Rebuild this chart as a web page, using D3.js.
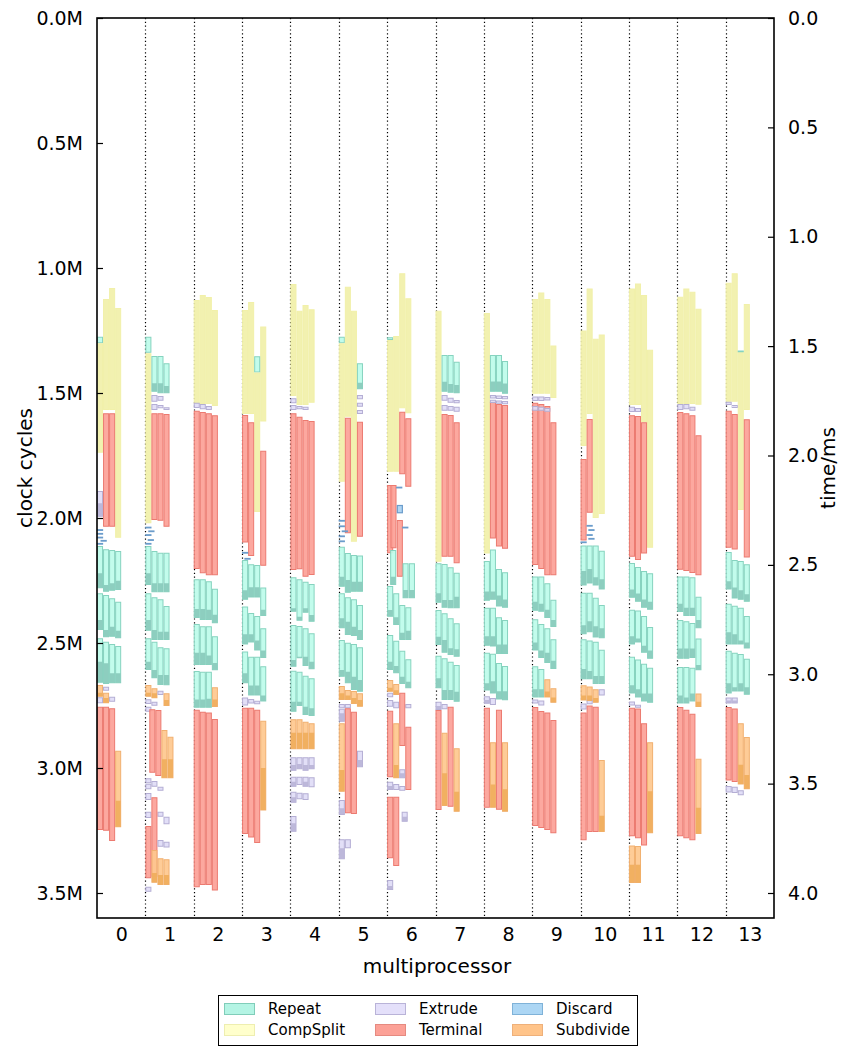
<!DOCTYPE html>
<html>
<head>
<meta charset="utf-8">
<script src="https://cdn.jsdelivr.net/npm/d3@7"></script>
<style>
  body { margin: 0; background: #fff; }
  text { font-family: "DejaVu Sans", sans-serif; fill: #000; }
</style>
</head>
<body>
<svg id="chart" width="842" height="1048"></svg>
<script>
// ---- axes ----
const multiprocessors = [0, 1, 2, 3, 4, 5, 6, 7, 8, 9, 10, 11, 12, 13];
const cycleTicks = [0, 0.5, 1.0, 1.5, 2.0, 2.5, 3.0, 3.5];          // million clock cycles
const cycleTickLabels = ["0.0M", "0.5M", "1.0M", "1.5M", "2.0M", "2.5M", "3.0M", "3.5M"];
const timeTicks = [0.0, 0.5, 1.0, 1.5, 2.0, 2.5, 3.0, 3.5, 4.0];     // milliseconds
const clockMHz = 875;
const lanesPerMP = 8;   // lane slots per multiprocessor column

// ---- task kinds (legend order) ----
const taskTypes = ["Repeat", "CompSplit", "Extrude", "Terminal", "Discard", "Subdivide"];
const typeCodes = ["R", "C", "E", "T", "D", "S"];

// ---- tasks per multiprocessor: [lane, kind, start, end, secondPhaseStart] (Mcycles) ----
const tasksMP0 = [
  [0,'R',1.275,1.301],[0,'C',1.301,1.739],[1,'C',1.124,1.568],[2,'C',1.080,1.568],[3,'C',1.160,2.079],
  [1,'T',1.581,2.035],[2,'T',1.581,2.035],[0,'E',1.892,1.995,1.941],
  [0,'D',2.045,2.049],[0,'D',2.060,2.064],[0,'D',2.075,2.079],[0.6,'D',2.088,2.092],[0,'D',2.100,2.104],
  [0,'R',2.112,2.281,2.221],[1,'R',2.125,2.295,2.268],[2,'R',2.128,2.291,2.261],[3,'R',2.132,2.288,2.251],
  [0,'R',2.301,2.448,2.408],[1,'R',2.308,2.477,2.448],[2,'R',2.321,2.475,2.435],[3,'R',2.335,2.481,2.451],
  [0,'R',2.481,2.659,2.575],[1,'R',2.495,2.664,2.581],[2,'R',2.504,2.661,2.621],[3,'R',2.512,2.661,2.621],
  [0,'S',2.668,2.715,2.699],[1,'E',2.675,2.691],[1,'S',2.699,2.741,2.72],[2,'E',2.715,2.735],[0,'E',2.717,2.741],
  [0,'T',2.755,3.248],[1,'T',2.755,3.251],[2,'T',2.761,3.292],[3,'S',2.931,3.237,3.131]
];
const tasksMP1 = [
  [0,'R',1.275,1.339],[0,'C',1.341,2.021],
  [1,'R',1.352,1.495,1.461],[2,'R',1.352,1.501,1.461],[3,'R',1.381,1.501,1.472],
  [1,'E',1.508,1.535],[2,'E',1.512,1.531],[1,'E',1.544,1.568],[2,'E',1.548,1.561],[3,'E',1.557,1.568],
  [1,'T',1.581,2.008],[2,'T',1.581,2.011],[3,'T',1.584,2.035],
  [0,'D',2.035,2.039],[0.5,'D',2.050,2.054],[0,'D',2.065,2.069],[0.4,'D',2.085,2.089],[0,'D',2.100,2.104],
  [0,'R',2.112,2.268,2.221],[1,'R',2.132,2.297,2.261],[2,'R',2.139,2.297,2.261],[3,'R',2.139,2.297,2.261],
  [0,'R',2.301,2.451,2.408],[1,'R',2.317,2.488,2.448],[2,'R',2.325,2.488,2.455],[3,'R',2.352,2.488,2.455],
  [0,'R',2.481,2.608,2.575],[1,'R',2.495,2.641,2.608],[2,'R',2.517,2.668,2.628],[3,'R',2.521,2.669,2.628],
  [0,'S',2.668,2.715,2.699],[1,'S',2.681,2.721,2.701],[2,'E',2.691,2.708],[3,'S',2.701,2.752,2.728],
  [0,'E',2.725,2.744],[1,'E',2.735,2.751],[0,'E',2.755,2.775],
  [0.65,'T',2.765,3.019],[1.65,'T',2.768,3.032],[2.65,'S',2.848,3.041,2.965],[3.65,'S',2.875,3.041,2.965],
  [0,'E',3.041,3.061],[1,'E',3.052,3.075],[0,'E',3.063,3.085],[2,'E',3.075,3.091],[0,'E',3.100,3.128],
  [0,'E',3.175,3.200],[2,'E',3.175,3.195],[3,'E',3.195,3.225],
  [1,'T',3.117,3.435],[0,'T',3.232,3.441],[2,'E',3.288,3.315],[3,'E',3.295,3.318],
  [1,'S',3.328,3.459,3.42],[2,'S',3.361,3.468,3.428],[3,'S',3.365,3.468,3.428],[0,'E',3.475,3.495]
];
const tasksMP2 = [
  [0,'C',1.128,1.544],[1,'C',1.108,1.544],[2,'C',1.116,1.544],[3,'C',1.168,1.552],
  [0,'E',1.539,1.560],[1,'E',1.544,1.565],[2,'E',1.552,1.568],
  [0,'T',1.571,2.204],[1,'T',1.576,2.221],[2,'T',1.581,2.229],[3,'T',1.589,2.229],
  [0,'R',2.245,2.400,2.364],[1,'R',2.245,2.408,2.364],[2,'R',2.253,2.408,2.367],[3,'R',2.283,2.421,2.387],
  [0,'R',2.424,2.588,2.539],[1,'R',2.433,2.588,2.539],[2,'R',2.433,2.588,2.55],[3,'R',2.473,2.609,2.58],
  [0,'R',2.612,2.759,2.726],[1,'R',2.615,2.759,2.726],[2,'R',2.615,2.759,2.723],[3,'S',2.677,2.756,2.726],
  [0,'T',2.767,3.477],[1,'T',2.775,3.468],[2,'T',2.778,3.468],[3,'T',2.804,3.490]
];
const tasksMP3 = [
  [1,'C',1.136,1.584],[0,'C',1.168,1.584],[3,'C',1.234,1.614],[2,'R',1.353,1.418],[2,'C',1.418,1.976],
  [0,'T',1.588,2.098],[1,'T',1.617,2.152],[3,'T',1.731,2.191],
  [0,'D',2.136,2.140],[0.4,'D',2.160,2.164],
  [0,'R',2.168,2.327,2.289],[1,'R',2.185,2.318,2.277],[2,'R',2.188,2.318,2.277],[3,'R',2.278,2.392,2.367],
  [0,'R',2.354,2.506,2.465],[1,'R',2.380,2.498,2.465],[2,'R',2.392,2.530,2.49],[3,'R',2.441,2.560,2.53],
  [0,'R',2.534,2.661,2.621],[1,'R',2.555,2.710,2.67],[2,'R',2.555,2.710,2.67],[3,'R',2.593,2.734,2.71],
  [0,'E',2.718,2.750],[1,'E',2.724,2.742],[2,'E',2.731,2.745],
  [0,'T',2.759,3.264],[1,'T',2.759,3.278],[2,'T',2.767,3.300],[3,'S',2.811,3.170,3.0]
];
const tasksMP4 = [
  [0,'C',1.064,1.512],[1,'C',1.171,1.548],[2,'C',1.148,1.548],[3,'C',1.165,1.539],
  [0,'E',1.521,1.541],[0,'E',1.548,1.568],[1,'E',1.552,1.565],[2,'E',1.555,1.568],
  [0,'T',1.581,2.208],[1,'T',1.595,2.205],[2,'T',1.608,2.235],[3,'T',1.612,2.228],
  [0,'R',2.237,2.375,2.361],[1,'R',2.245,2.411,2.395],[2,'R',2.255,2.379,2.361],[3,'R',2.264,2.415,2.388],
  [0,'R',2.428,2.595,2.568],[1,'R',2.432,2.561,2.555],[2,'R',2.441,2.592,2.555],[3,'R',2.461,2.605,2.575],
  [0,'R',2.611,2.775,2.735],[1,'R',2.615,2.752,2.735],[2,'R',2.631,2.788,2.755],[3,'R',2.641,2.792,2.761],
  [0,'S',2.805,2.925,2.859],[1,'S',2.805,2.925,2.859],[2,'S',2.815,2.925,2.859],[3,'S',2.821,2.925,2.859],
  [0,'E',2.957,3.011,2.988],[1,'E',2.957,3.005,2.984],[2,'E',2.957,3.011,2.988],[3,'E',2.957,3.005,2.988],
  [0,'E',3.035,3.075,3.055],[1,'E',3.035,3.068],[2,'E',3.035,3.075,3.055],[3,'E',3.037,3.077],
  [0,'E',3.095,3.139,3.117],[1,'E',3.099,3.125],[2,'E',3.101,3.128],[0,'E',3.192,3.255,3.221]
];
const tasksMP5 = [
  [0,'R',1.275,1.301],[0,'C',1.301,1.855],[1,'C',1.075,1.595],[2,'C',1.171,2.095],
  [3,'R',1.381,1.485,1.459],[3,'E',1.508,1.525],[3,'E',1.539,1.555],[3,'E',1.568,1.584],
  [1,'T',1.599,2.061],[3,'T',1.615,2.075],
  [0,'D',2.008,2.012],[0,'D',2.030,2.034],[0.5,'D',2.050,2.054],[0,'D',2.070,2.074],[0,'D',2.090,2.094],
  [0,'R',2.115,2.275,2.235],[1,'R',2.140,2.299,2.248],[2,'R',2.148,2.295,2.255],[3,'R',2.150,2.295,2.255],
  [0,'R',2.301,2.441,2.401],[1,'R',2.317,2.468,2.415],[2,'R',2.325,2.472,2.435],[3,'R',2.348,2.488,2.448],
  [0,'R',2.488,2.635,2.608],[1,'R',2.499,2.661,2.615],[2,'R',2.504,2.688,2.635],[3,'R',2.517,2.695,2.648],
  [0,'S',2.672,2.728,2.701],[1,'S',2.688,2.728,2.71],[2,'S',2.692,2.744,2.72],[3,'S',2.701,2.755,2.728],
  [0,'E',2.744,2.761],[1,'E',2.744,2.761],[0,'E',2.763,2.815,2.781],
  [1,'T',2.761,3.181],[2,'T',2.775,3.184],[0,'S',2.821,3.095,3.008],[3,'E',2.931,2.997,2.968],
  [0,'E',3.128,3.188,3.161],[0,'E',3.285,3.365,3.321],[1,'E',3.285,3.321]
];
const tasksMP6 = [
  [0,'R',1.277,1.288],[0,'C',1.288,1.815],[1,'C',1.272,1.815],[2,'C',1.021,1.561],[3,'C',1.121,1.581],
  [2,'T',1.575,1.825],[3,'T',1.601,1.875],[0,'T',1.868,2.141],[0.55,'T',1.868,2.121],
  [1.5,'D',1.875,1.879],[1.6,'D',1.948,1.981],[1.6,'T',2.008,2.235],[2.5,'D',2.035,2.039],
  [0.5,'R',2.128,2.268,2.235],[2.55,'R',2.181,2.321,2.288],[3.6,'R',2.181,2.321,2.288],
  [0,'R',2.272,2.395,2.368],[1,'R',2.301,2.428,2.397],[2,'R',2.348,2.488,2.459],[3,'R',2.357,2.488,2.451],
  [0,'R',2.468,2.608,2.575],[1,'R',2.491,2.621,2.592],[2,'R',2.531,2.664,2.635],[3,'R',2.565,2.681,2.655],
  [0,'S',2.648,2.695,2.679],[1,'S',2.664,2.708,2.689],
  [0,'E',2.699,2.717],[0,'E',2.728,2.755],[1,'E',2.735,2.761],[3,'E',2.744,2.761],
  [2,'T',2.699,2.912],[3,'T',2.835,3.088],[0,'T',2.771,3.037],[1,'S',2.821,3.041,2.988],
  [2,'E',3.005,3.041,3.021],[0,'E',3.055,3.088,3.072],[1,'E',3.064,3.088],[2,'E',3.072,3.091],
  [0,'T',3.115,3.361],[1,'T',3.115,3.392],[2.4,'E',3.175,3.215,3.195],[0,'E',3.448,3.488,3.472]
];
const tasksMP7 = [
  [0,'C',1.171,2.175],
  [1,'R',1.348,1.495,1.455],[2,'R',1.348,1.499,1.464],[3,'R',1.375,1.501,1.468],
  [1,'E',1.508,1.531],[2,'E',1.519,1.539],[3,'E',1.528,1.541],
  [1,'E',1.548,1.571],[2,'E',1.552,1.571],[3,'E',1.555,1.575],
  [1,'T',1.584,2.155],[2,'T',1.588,2.155],[3,'T',1.617,2.181],
  [0,'R',2.181,2.339,2.301],[1,'R',2.184,2.359,2.328],[2,'R',2.197,2.361,2.328],[3,'R',2.219,2.361,2.315],
  [0,'R',2.368,2.508,2.475],[1,'R',2.381,2.539,2.488],[2,'R',2.401,2.548,2.521],[3,'R',2.421,2.555,2.525],
  [0,'R',2.551,2.681,2.641],[1,'R',2.561,2.728,2.688],[2,'R',2.575,2.728,2.688],[3,'R',2.588,2.735,2.695],
  [0,'E',2.735,2.768,2.752],[1,'E',2.744,2.765],
  [0,'T',2.768,3.168],[2,'T',2.755,3.155],[1,'S',2.859,3.152,3.021],[3,'S',2.921,3.175,3.095]
];
const tasksMP8 = [
  [0,'C',1.180,2.142],
  [1,'R',1.348,1.495,1.454],[2,'R',1.348,1.495,1.454],[3,'R',1.372,1.503,1.462],
  [1,'T',1.535,2.082],[2,'T',1.544,2.114],[3,'T',1.548,2.123],
  [1,'E',1.508,1.522],[2,'E',1.510,1.524],[3,'E',1.512,1.525],
  [1,'E',1.527,1.540],[2,'E',1.530,1.543],[3,'E',1.532,1.545],
  [1,'R',2.126,2.327,2.294],[0,'R',2.172,2.331,2.294],[2,'R',2.204,2.354,2.31],[3,'R',2.217,2.359,2.326],
  [0,'R',2.359,2.511,2.473],[1,'R',2.359,2.514,2.473],[2,'R',2.397,2.544,2.506],[3,'R',2.408,2.544,2.506],
  [0,'R',2.539,2.690,2.661],[1,'R',2.543,2.702,2.653],[2,'R',2.580,2.726,2.693],[3,'R',2.592,2.729,2.693],
  [0,'E',2.713,2.743,2.728],[1,'E',2.720,2.748],
  [0,'T',2.759,3.159],[2,'T',2.767,3.167],[1,'S',2.897,3.159,3.066],[3,'S',2.897,3.175,3.085]
];
const tasksMP9 = [
  [0,'C',1.124,1.503],[1,'C',1.098,1.503],[2,'C',1.124,1.503],[3,'C',1.310,1.520],
  [0,'T',1.539,2.188],[1,'T',1.544,2.204],[2,'T',1.552,2.229],[3,'T',1.617,2.229],
  [0,'E',1.514,1.532],[1,'E',1.514,1.532],[2,'E',1.516,1.530],
  [0,'E',1.552,1.571],[1,'E',1.555,1.571],[2,'E',1.560,1.575],
  [0,'R',2.234,2.371,2.335],[1,'R',2.234,2.375,2.343],[2,'R',2.261,2.400,2.367],[3,'R',2.327,2.436,2.408],
  [0,'R',2.405,2.530,2.498],[1,'R',2.424,2.560,2.53],[2,'R',2.441,2.580,2.539],[3,'R',2.485,2.604,2.571],
  [0,'R',2.593,2.718,2.685],[1,'R',2.604,2.718,2.685],[2,'S',2.645,2.718,2.694],[3,'S',2.681,2.739,2.718],
  [0,'E',2.726,2.742],[1,'E',2.730,2.750],
  [0,'T',2.756,3.232],[1,'T',2.772,3.240],[2,'T',2.778,3.248],[3,'T',2.808,3.261]
];
const tasksMP10 = [
  [1,'C',1.082,1.584],[0,'C',1.250,1.712],[3,'C',1.266,1.984],[2,'C',1.283,2.000],
  [1,'T',1.604,1.979],[0,'T',1.764,2.090],
  [1,'D',2.028,2.032],[1.3,'D',2.045,2.049],[1,'D',2.065,2.069],[1.3,'D',2.080,2.084],[0,'D',2.094,2.098],
  [0,'R',2.110,2.270,2.212],[1,'R',2.110,2.262,2.204],[2,'R',2.110,2.270,2.237],[3,'R',2.131,2.286,2.245],
  [0,'R',2.299,2.465,2.429],[1,'R',2.299,2.457,2.413],[2,'R',2.319,2.478,2.433],[3,'R',2.348,2.481,2.441],
  [0,'R',2.485,2.645,2.604],[1,'R',2.490,2.645,2.612],[2,'R',2.495,2.664,2.632],[3,'R',2.527,2.664,2.632],
  [0,'S',2.669,2.730,2.71],[1,'S',2.674,2.734,2.71],[2,'S',2.685,2.739,2.72],[3,'E',2.685,2.710],
  [1,'E',2.726,2.745],[0,'E',2.742,2.766],
  [0,'T',2.778,3.289],[1,'T',2.750,3.256],[2,'T',2.755,3.256],[3,'S',2.968,3.256,3.191]
];
const tasksMP11 = [
  [1,'C',1.062,1.548],[0,'C',1.082,1.548],[2,'C',1.108,1.617],[3,'C',1.327,2.119],
  [0,'E',1.555,1.576],[1,'E',1.560,1.576],
  [0,'T',1.589,2.155],[1,'T',1.592,2.168],[2,'T',1.617,2.142],
  [0,'R',2.180,2.319,2.286],[1,'R',2.196,2.335,2.302],[2,'R',2.212,2.359,2.326],[3,'R',2.221,2.367,2.335],
  [0,'R',2.367,2.506,2.473],[1,'R',2.370,2.498,2.482],[2,'R',2.392,2.539,2.511],[3,'R',2.436,2.563,2.53],
  [0,'R',2.555,2.702,2.669],[1,'R',2.566,2.718,2.685],[2,'R',2.583,2.734,2.702],[3,'R',2.599,2.739,2.702],
  [0,'E',2.734,2.750],[1,'E',2.747,2.759],
  [0,'T',2.759,3.273],[1,'T',2.762,3.281],[2,'T',2.821,3.310],[3,'S',2.897,3.261,3.093],
  [0,'S',3.310,3.460,3.387],[1,'S',3.312,3.460,3.387]
];
const tasksMP12 = [
  [0,'C',1.115,1.544],[1,'C',1.082,1.544],[2,'C',1.095,1.544],[3,'C',1.163,1.547],
  [0,'E',1.544,1.568],[1,'E',1.544,1.565],[2,'E',1.555,1.571],
  [0,'T',1.576,2.207],[1,'T',1.581,2.212],[2,'T',1.589,2.220],[3,'T',1.669,2.229],
  [0,'R',2.234,2.376,2.343],[1,'R',2.234,2.392,2.359],[2,'R',2.237,2.392,2.359],[3,'R',2.315,2.441,2.408],
  [0,'R',2.408,2.563,2.522],[1,'R',2.413,2.563,2.522],[2,'R',2.420,2.560,2.522],[3,'R',2.482,2.609,2.588],
  [0,'R',2.596,2.742,2.71],[1,'R',2.596,2.742,2.718],[2,'R',2.599,2.734,2.702],[3,'S',2.702,2.756,2.735],
  [0,'T',2.756,3.273],[1,'T',2.767,3.281],[2,'T',2.783,3.289],[3,'S',2.963,3.264,3.159]
];
const tasksMP13 = [
  [1,'C',1.021,1.535],[0,'C',1.059,1.535],[3,'C',1.144,1.568],[2,'C',1.332,1.968],[2,'R',1.330,1.337],
  [0,'E',1.535,1.548],[1,'E',1.548,1.560],
  [0,'T',1.571,2.119],[1,'T',1.584,2.126],[3,'T',1.605,2.158],
  [0,'R',2.136,2.286,2.253],[1,'R',2.168,2.322,2.278],[2,'R',2.172,2.327,2.289],[3,'R',2.185,2.335,2.305],
  [0,'R',2.343,2.506,2.457],[1,'R',2.351,2.506,2.465],[2,'R',2.359,2.506,2.49],[3,'R',2.392,2.522,2.498],
  [0,'R',2.531,2.702,2.661],[1,'R',2.539,2.694,2.677],[2,'R',2.544,2.694,2.661],[3,'R',2.563,2.707,2.677],
  [0,'E',2.718,2.742,2.73],[1,'E',2.718,2.742,2.73],
  [0,'T',2.756,3.050],[1,'T',2.762,3.056],[2,'S',2.821,3.066,2.987],[3,'S',2.876,3.085,3.028],
  [0,'E',3.072,3.098],[1,'E',3.075,3.100],[2,'E',3.089,3.109]
];
const tasksByMP = [tasksMP0, tasksMP1, tasksMP2, tasksMP3, tasksMP4, tasksMP5, tasksMP6,
                   tasksMP7, tasksMP8, tasksMP9, tasksMP10, tasksMP11, tasksMP12, tasksMP13];

// ---- styling per task kind ----
const kindStyle = {
  R: { fill: "#bdfcea", second: "#8acbbd", stroke: "#86d3bf", legend: "#b4f4e4", legendStroke: "#80cdb9" },
  C: { fill: "#f1f0a9", second: "#f1f0a9", stroke: "#f1f0a9", legend: "#ffffcc", legendStroke: "#eeeeb0" },
  E: { fill: "#e0dcf6", second: "#bab5d8", stroke: "#b4aed4", legend: "#e4e0fa", legendStroke: "#b9b3d8" },
  T: { fill: "#fca197", second: "#fca197", stroke: "#ec7a70", legend: "#fca197", legendStroke: "#e58a80" },
  D: { fill: "#a9d2f2", second: "#a9d2f2", stroke: "#6b9ccb", legend: "#acd6f4", legendStroke: "#7fb2d8" },
  S: { fill: "#fec88e", second: "#f0ae5e", stroke: "#f1b070", legend: "#ffc48a", legendStroke: "#eeb07a" }
};

// ---- layout ----
const svg = d3.select("#chart");
const plot = { left: 97, right: 774, top: 18, bottom: 918 };

const x = d3.scaleLinear().domain([-0.5, 13.5]).range([plot.left, plot.right]);
const y = d3.scaleLinear().domain([0, 3.6]).range([plot.top, plot.bottom]);
const yTime = d3.scaleLinear().domain([0, 3.6e6 / (clockMHz * 1000)]).range([plot.top, plot.bottom]);
const laneUnit = 1 / lanesPerMP;
const laneW = x(laneUnit) - x(0);

// column separators
svg.append("g").selectAll("line")
  .data(multiprocessors.slice(0, -1))
  .join("line")
  .attr("x1", d => Math.round(x(d + 0.5)) + 0.5)
  .attr("x2", d => Math.round(x(d + 0.5)) + 0.5)
  .attr("y1", plot.top).attr("y2", plot.bottom)
  .attr("stroke", "#000").attr("stroke-width", 1.2)
  .attr("stroke-dasharray", "1.2,2.6");

// task bars
const tasks = [];
tasksByMP.forEach((list, mp) => list.forEach(t => tasks.push({
  mp, lane: t[0], kind: t[1], start: t[2], end: t[3], second: t[4]
})));

const barX = d => x(d.mp - 0.5 + d.lane * laneUnit);
const bars = svg.append("g");

bars.selectAll("rect.task")
  .data(tasks)
  .join("rect")
  .attr("class", "task")
  .attr("x", d => barX(d) + 0.5)
  .attr("y", d => y(d.start) + 0.5)
  .attr("width", laneW - 1)
  .attr("height", d => Math.max(y(d.end) - y(d.start) - 1, 0.6))
  .attr("fill", d => kindStyle[d.kind].fill)
  .attr("fill-opacity", 0.92)
  .attr("stroke", d => kindStyle[d.kind].stroke)
  .attr("stroke-width", d => d.kind === 'D' ? 1.2 : 1);

// second phase of a task drawn darker
bars.selectAll("rect.phase")
  .data(tasks.filter(d => d.second != null))
  .join("rect")
  .attr("class", "phase")
  .attr("x", d => barX(d) + 0.5)
  .attr("y", d => y(d.second))
  .attr("width", laneW - 1)
  .attr("height", d => y(d.end) - y(d.second) - 0.5)
  .attr("fill", d => kindStyle[d.kind].second)
  .attr("fill-opacity", 0.95);

// frame
svg.append("rect")
  .attr("x", plot.left).attr("y", plot.top)
  .attr("width", plot.right - plot.left).attr("height", plot.bottom - plot.top)
  .attr("fill", "none").attr("stroke", "#000").attr("stroke-width", 1.6);

// left axis: clock cycles
const leftAxis = d3.axisLeft(y).tickValues(cycleTicks)
  .tickFormat((d, i) => cycleTickLabels[i]).tickSizeInner(-6).tickSizeOuter(0).tickPadding(14);
const gl = svg.append("g").attr("transform", `translate(${plot.left},0)`).call(leftAxis);
gl.select(".domain").remove();
gl.selectAll("line").attr("stroke", "#000").attr("stroke-width", 1.2);
gl.selectAll("text").attr("font-size", 19).attr("font-family", "DejaVu Sans");

// right axis: time
const rightAxis = d3.axisRight(yTime).tickValues(timeTicks)
  .tickFormat(d3.format(".1f")).tickSizeInner(-6).tickSizeOuter(0).tickPadding(14);
const gr = svg.append("g").attr("transform", `translate(${plot.right},0)`).call(rightAxis);
gr.select(".domain").remove();
gr.selectAll("line").attr("stroke", "#000").attr("stroke-width", 1.2);
gr.selectAll("text").attr("font-size", 19).attr("font-family", "DejaVu Sans");

// bottom axis: multiprocessor index
const bottomAxis = d3.axisBottom(x).tickValues(multiprocessors)
  .tickFormat(d3.format("d")).tickSize(0).tickPadding(10);
const gb = svg.append("g").attr("transform", `translate(0,${plot.bottom})`).call(bottomAxis);
gb.select(".domain").remove();
gb.selectAll("text").attr("font-size", 19).attr("font-family", "DejaVu Sans");

// axis titles
svg.append("text").attr("x", 437).attr("y", 973).attr("text-anchor", "middle")
  .attr("font-size", 20).text("multiprocessor");
svg.append("text").attr("transform", "translate(32,468) rotate(-90)").attr("text-anchor", "middle")
  .attr("font-size", 20).text("clock cycles");
svg.append("text").attr("transform", "translate(835,468) rotate(-90)").attr("text-anchor", "middle")
  .attr("font-size", 20).text("time/ms");

// legend
const legend = svg.append("g");
legend.append("rect").attr("x", 218.5).attr("y", 995.5).attr("width", 419).attr("height", 50)
  .attr("fill", "#fff").attr("stroke", "#000").attr("stroke-width", 1);
const legendCols = [224, 375, 512];
const legendRows = [1003, 1024];
// column-major order, two rows per column
const legendItems = taskTypes.map((name, i) => ({
  name, code: typeCodes[i], col: Math.floor(i / 2), row: i % 2
}));
legend.selectAll("rect.key").data(legendItems).join("rect")
  .attr("class", "key")
  .attr("x", d => legendCols[d.col] + 0.5).attr("y", d => legendRows[d.row] + 0.5)
  .attr("width", 30).attr("height", 11)
  .attr("fill", d => kindStyle[d.code].legend)
  .attr("stroke", d => kindStyle[d.code].legendStroke).attr("stroke-width", 1);
legend.selectAll("text").data(legendItems).join("text")
  .attr("x", d => legendCols[d.col] + 44).attr("y", d => legendRows[d.row] + 11)
  .attr("font-size", 15).text(d => d.name);
</script>
</body>
</html>
